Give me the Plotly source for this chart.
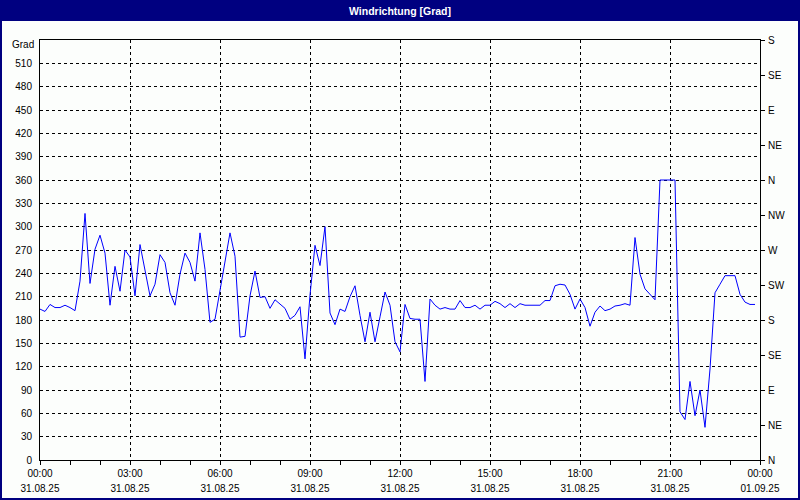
import plotly.graph_objects as go
import pandas as pd

# 10-minute readings of wind direction on 31.08.2025
times = pd.date_range("2025-08-31 00:00", periods=144, freq="10min")
direction_deg = [
    194, 191, 200, 196, 196, 199, 196, 192, 230, 317,
    227, 271, 289, 266, 199, 249, 217, 270, 261, 211,
    277, 243, 211, 226, 264, 254, 215, 199, 239, 266,
    254, 230, 292, 245, 177, 181, 219, 254, 292, 262,
    158, 159, 211, 243, 209, 210, 195, 206, 201, 195,
    181, 186, 197, 130, 212, 276, 250, 300, 189, 174,
    194, 191, 210, 224, 186, 152, 190, 152, 184, 216,
    199, 152, 139, 200, 182, 181, 181, 101, 207, 199,
    194, 196, 194, 194, 205, 196, 196, 199, 194, 199,
    199, 204, 201, 196, 201, 196, 201, 199, 199, 199,
    199, 205, 205, 224, 226, 225, 213, 194, 207, 196,
    172, 190, 198, 192, 194, 198, 199, 201, 199, 286,
    239, 220, 213, 206, 360, 360, 360, 360, 62, 52,
    101, 57, 90, 42, 117, 215, 226, 237, 237, 237,
    213, 203, 200, 200,
]

x_start = "2025-08-31 00:00"
x_end = "2025-09-01 00:00"
grad_ticks = [0, 30, 60, 90, 120, 150, 180, 210, 240, 270, 300, 330, 360, 390, 420, 450, 480, 510]
compass_vals = [0, 45, 90, 135, 180, 225, 270, 315, 360, 405, 450, 495, 540]
compass_labels = ["N", "NE", "E", "SE", "S", "SW", "W", "NW", "N", "NE", "E", "SE", "S"]
y_max = 540

NAVY = "#000080"
BG = "#fcfefc"
FONT = "Liberation Sans"
H3 = 3 * 3600 * 1000
H1 = 3600 * 1000

fig = go.Figure()
fig.add_trace(go.Scatter(
    x=times, y=direction_deg, mode="lines",
    line=dict(color="#0000ff", width=1),
    showlegend=False, hoverinfo="x+y",
))
# helper trace so the secondary axes (date row, compass scale) are drawn
fig.add_trace(go.Scatter(
    x=[times[0]], y=[None], xaxis="x2", yaxis="y2",
    mode="lines", showlegend=False, hoverinfo="skip",
))

fig.update_layout(
    width=800, height=500, autosize=False,
    margin=dict(l=40, r=40, t=40, b=40, autoexpand=False),
    paper_bgcolor=BG, plot_bgcolor=BG,
    showlegend=False,
    font=dict(family=FONT, size=10, color="#000000"),
    xaxis=dict(
        type="date", range=[x_start, x_end], automargin=False,
        tick0=x_start, dtick=H3, tickformat="%H:%M",
        ticks="outside", ticklen=4, tickcolor="#000000", tickwidth=1,
        showline=True, linecolor="#000000", linewidth=1, mirror=True,
        showgrid=True, gridcolor="#000000", gridwidth=1, griddash="3px,3px",
        zeroline=False,
        minor=dict(dtick=H1, tick0=x_start, ticks="outside", ticklen=4,
                   tickcolor="#000000", showgrid=False),
        tickfont=dict(family=FONT, size=10, color="#000000"),
    ),
    xaxis2=dict(
        type="date", range=[x_start, x_end], overlaying="x", anchor="y", side="bottom",
        automargin=False,
        tick0=x_start, dtick=H3, tickformat="%d.%m.%y",
        ticks="", showline=False, showgrid=False, zeroline=False,
        ticklabelstandoff=21,
        tickfont=dict(family=FONT, size=10, color="#000000"),
    ),
    yaxis=dict(
        range=[0, y_max], tickvals=grad_ticks, automargin=False,
        ticks="", showline=True, linecolor="#000000", linewidth=1,
        showgrid=True, gridcolor="#000000", gridwidth=1, griddash="3px,3px",
        zeroline=False, ticklabelstandoff=5,
        tickfont=dict(family=FONT, size=10, color="#000000"),
    ),
    yaxis2=dict(
        range=[0, y_max], overlaying="y", side="right", anchor="x", automargin=False,
        tickvals=compass_vals, ticktext=compass_labels,
        ticks="outside", ticklen=4, tickcolor="#000000",
        showline=True, linecolor="#000000", linewidth=1,
        showgrid=False, zeroline=False, ticklabelstandoff=1,
        tickfont=dict(family=FONT, size=10, color="#000000"),
    ),
    shapes=[
        dict(type="rect", xref="paper", yref="paper",
             x0=-40 / 720, x1=760 / 720, y0=439 / 420, y1=460 / 420,
             fillcolor=NAVY, line=dict(width=0), layer="below"),
        dict(type="rect", xref="paper", yref="paper",
             x0=-39 / 720, x1=759 / 720, y0=-39 / 420, y1=459 / 420,
             fillcolor="rgba(0,0,0,0)", line=dict(color=NAVY, width=2)),
    ],
    annotations=[
        dict(text="<b>Windrichtung [Grad]</b>", xref="paper", yref="paper",
             x=0.5, y=449.5 / 420, xanchor="center", yanchor="middle", showarrow=False,
             font=dict(family=FONT, size=10.5, color="#ffffff")),
        dict(text="Grad", xref="paper", yref="paper",
             x=-4 / 720, y=415 / 420, xanchor="right", yanchor="middle", showarrow=False,
             font=dict(family=FONT, size=10, color="#000000")),
    ],
)

fig.write_html(
    "out.html",
    config={"displayModeBar": False, "responsive": False},
    post_script="document.body.style.margin='0px';document.body.style.overflow='hidden';",
)
